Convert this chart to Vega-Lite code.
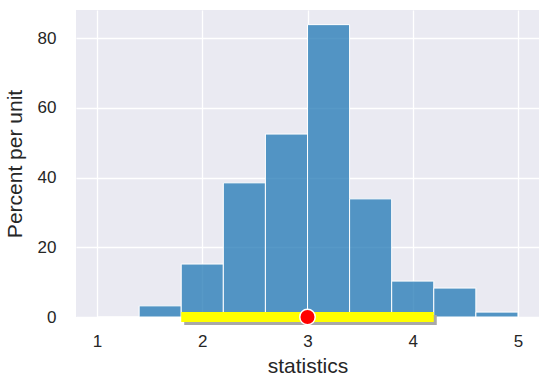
{
  "$schema": "https://vega.github.io/schema/vega-lite/v6.json",
  "width": 463,
  "height": 307,
  "autosize": {"type": "none"},
  "padding": {"left": 76, "top": 10, "right": 10, "bottom": 71},
  "background": "white",
  "config": {
    "view": {"fill": "#eaeaf2", "stroke": null},
    "font": "Liberation Sans",
    "axis": {
      "domain": false,
      "ticks": false,
      "gridColor": "white",
      "gridWidth": 1.3,
      "labelFontSize": 17,
      "labelColor": "#262626",
      "titleFontSize": 21,
      "titleFontWeight": "normal",
      "titleColor": "#262626"
    }
  },
  "datasets": {
    "bins": [
      {"start": 1.0, "end": 1.4, "pct": 0.0},
      {"start": 1.4, "end": 1.8, "pct": 3.2},
      {"start": 1.8, "end": 2.2, "pct": 15.2},
      {"start": 2.2, "end": 2.6, "pct": 38.5},
      {"start": 2.6, "end": 3.0, "pct": 52.5},
      {"start": 3.0, "end": 3.4, "pct": 83.9},
      {"start": 3.4, "end": 3.8, "pct": 33.9},
      {"start": 3.8, "end": 4.2, "pct": 10.3},
      {"start": 4.2, "end": 4.6, "pct": 8.3},
      {"start": 4.6, "end": 5.0, "pct": 1.4}
    ],
    "interval": [{"lo": 1.8, "hi": 4.2, "y": 0}],
    "point": [{"x": 3.0, "y": 0}]
  },
  "layer": [
    {
      "data": {"name": "bins"},
      "mark": {"type": "rect", "fill": "#1f77b4", "fillOpacity": 0.75, "stroke": "white", "strokeWidth": 1},
      "encoding": {
        "x": {"field": "start", "type": "quantitative",
              "scale": {"domain": [0.8, 5.2], "nice": false, "zero": false},
              "axis": {"values": [1, 2, 3, 4, 5], "format": "d", "labelPadding": 16, "title": "statistics", "titlePadding": 6}},
        "x2": {"field": "end"},
        "y": {"field": "pct", "type": "quantitative",
              "scale": {"domain": [0, 88.1], "nice": false},
              "axis": {"values": [0, 20, 40, 60, 80], "format": "d", "labelPadding": 20, "title": "Percent per unit", "titlePadding": 12}},
        "y2": {"datum": 0}
      }
    },
    {
      "data": {"name": "interval"},
      "mark": {"type": "rule", "stroke": "#a8a8a8", "strokeWidth": 10, "strokeCap": "butt", "xOffset": 3, "x2Offset": 3, "yOffset": 3, "y2Offset": 3},
      "encoding": {
        "x": {"field": "lo", "type": "quantitative"},
        "x2": {"field": "hi"},
        "y": {"field": "y", "type": "quantitative"}
      }
    },
    {
      "data": {"name": "interval"},
      "mark": {"type": "rule", "stroke": "#ffff00", "strokeWidth": 10, "strokeCap": "butt"},
      "encoding": {
        "x": {"field": "lo", "type": "quantitative"},
        "x2": {"field": "hi"},
        "y": {"field": "y", "type": "quantitative"}
      }
    },
    {
      "data": {"name": "point"},
      "mark": {"type": "point", "shape": "circle", "filled": true, "fill": "red", "stroke": "white", "strokeWidth": 1.5, "size": 240, "opacity": 1},
      "encoding": {
        "x": {"field": "x", "type": "quantitative"},
        "y": {"field": "y", "type": "quantitative"}
      }
    }
  ]
}
